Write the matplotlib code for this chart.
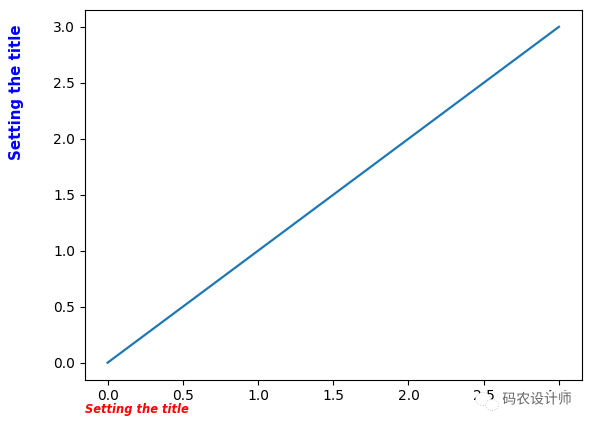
import matplotlib
matplotlib.use('Agg')
import matplotlib.pyplot as plt
import matplotlib.patheffects as pe
from matplotlib.patches import Ellipse

x = [0, 1, 2, 3]
y = [0, 1, 2, 3]
title = 'Setting the title'
mark = '码农设计师'

plt.rcParams['font.family'] = ['DejaVu Sans', 'Noto Sans CJK SC']

fig = plt.figure(figsize=(5.9, 4.26), dpi=100)
ax = fig.add_axes([85 / 590, 1 - 379.5 / 426, (581.5 - 85) / 590, (379.5 - 10) / 426])
ax.plot(x, y, color='#1f77b4', lw=1.6)
ax.tick_params(labelsize=10)

# titles sit at the left of the axes bottom and at the left edge of the figure
ax.text(0, -0.08, title, transform=ax.transAxes, color='red', fontsize=8.3,
        fontweight='bold', fontstyle='italic', va='center', ha='left')
fig.text(17 / 590, 1 - 92 / 426, title, color='blue', fontsize=10.8,
         fontweight='bold', rotation=90, va='center', ha='center')

# watermark, white halo hides part of the tick labels
halo = [pe.withStroke(linewidth=3, foreground='white')]
t = fig.text(537 / 590, 1 - 399.5 / 426, mark, color='#666666', fontsize=10,
             va='center', ha='center', zorder=10)
t.set_path_effects(halo)

for cx, cy, w, h in [(483, 399, 15, 13), (492, 405, 13, 11)]:
    icon = Ellipse((cx, 426 - cy), w, h, transform=None, fc='white',
                   ec='#cccccc', lw=0.7, ls=':', zorder=9)
    fig.add_artist(icon)

fig.savefig('out.png', dpi=100)
